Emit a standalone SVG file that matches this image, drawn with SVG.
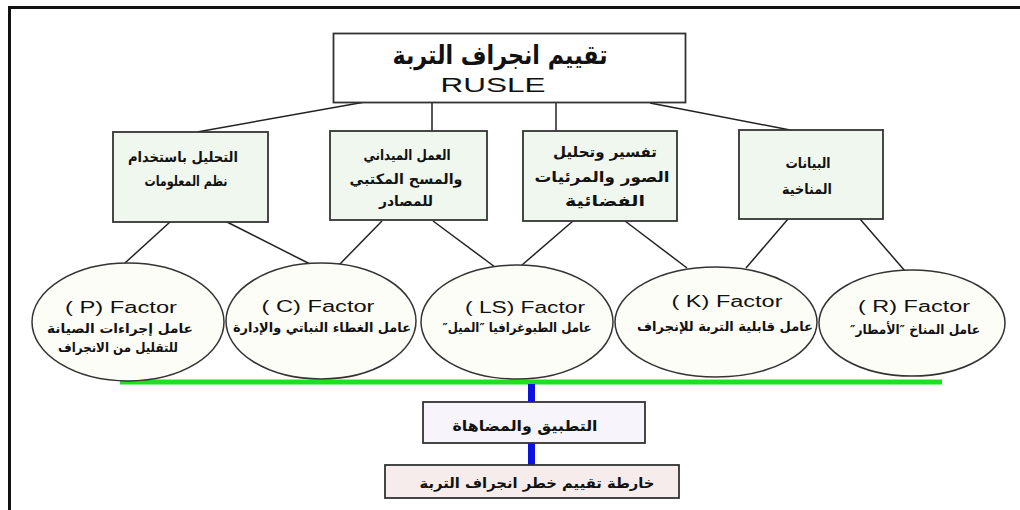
<svg xmlns="http://www.w3.org/2000/svg" width="1020" height="510" viewBox="0 0 1020 510">
<style>
.frame{stroke:#111;stroke-width:3;fill:none}
.conn{stroke:#222;stroke-width:1.5;fill:none}
.box{fill:#eff7ef;stroke:#333;stroke-width:1.8}
.ell{fill:#fdfdf7;stroke:#333;stroke-width:1.5}
.ar{font-family:"DejaVu Sans",sans-serif;font-weight:bold;text-anchor:middle;fill:#111;direction:rtl;unicode-bidi:embed}
.lat{font-family:"Liberation Sans",Arial,sans-serif;text-anchor:middle;fill:#111}
</style>
<rect width="1020" height="510" fill="#fff"/>
<path class="frame" d="M1020 7.5H9.5V510"/>
<g id="connectors">
<line class="conn" x1="365" y1="102" x2="197" y2="132"/>
<line class="conn" x1="432" y1="103" x2="432" y2="131"/>
<line class="conn" x1="556" y1="103" x2="556" y2="131"/>
<line class="conn" x1="650" y1="103" x2="790" y2="130"/>
<line class="conn" x1="170" y1="222" x2="125" y2="263"/>
<line class="conn" x1="227" y1="222" x2="310" y2="264"/>
<line class="conn" x1="382" y1="221" x2="339" y2="265"/>
<line class="conn" x1="433" y1="221" x2="495" y2="267"/>
<line class="conn" x1="573" y1="221" x2="522" y2="265"/>
<line class="conn" x1="625" y1="221" x2="687" y2="268"/>
<line class="conn" x1="788" y1="219" x2="746" y2="268"/>
<line class="conn" x1="860" y1="219" x2="905" y2="271"/>
<line x1="120" y1="382" x2="942" y2="382" stroke="#1fe01f" stroke-width="5"/>
<rect x="528" y="384" width="7" height="18" fill="#0a14dc"/>
<rect x="528" y="443" width="7" height="22" fill="#0a14dc"/>
</g>
<g id="top">
<rect x="333.5" y="33.5" width="352" height="69" fill="#fff" stroke="#333" stroke-width="1.8"/>
<text class="ar" x="500" y="64" font-size="26" textLength="215" lengthAdjust="spacingAndGlyphs">تقييم انجراف التربة</text>
<text class="lat" x="493" y="92" font-size="21" textLength="105" lengthAdjust="spacingAndGlyphs">RUSLE</text>
</g>
<g id="gis">
<rect class="box" x="113" y="132" width="155" height="90"/>
<text class="ar" x="183" y="162" font-size="14" textLength="110" lengthAdjust="spacingAndGlyphs">التحليل باستخدام</text>
<text class="ar" x="186" y="186" font-size="14" textLength="83" lengthAdjust="spacingAndGlyphs">نظم المعلومات</text>
</g>
<g id="field">
<rect class="box" x="330" y="131" width="157" height="89"/>
<text class="ar" x="407" y="160" font-size="14" textLength="87" lengthAdjust="spacingAndGlyphs">العمل الميداني</text>
<text class="ar" x="406" y="184" font-size="14" textLength="113" lengthAdjust="spacingAndGlyphs">والمسح المكتبي</text>
<text class="ar" x="406" y="206" font-size="14" textLength="54" lengthAdjust="spacingAndGlyphs">للمصادر</text>
</g>
<g id="imagery">
<rect class="box" x="523" y="131" width="154" height="90"/>
<text class="ar" x="605" y="157" font-size="15" textLength="104" lengthAdjust="spacingAndGlyphs">تفسير وتحليل</text>
<text class="ar" x="602" y="182" font-size="15" textLength="135" lengthAdjust="spacingAndGlyphs">الصور والمرئيات</text>
<text class="ar" x="605" y="206" font-size="15" textLength="80" lengthAdjust="spacingAndGlyphs">الفضائية</text>
</g>
<g id="climate">
<rect class="box" x="739" y="130" width="144" height="89"/>
<text class="ar" x="808" y="168" font-size="14" textLength="45" lengthAdjust="spacingAndGlyphs">البيانات</text>
<text class="ar" x="807" y="194" font-size="14" textLength="50" lengthAdjust="spacingAndGlyphs">المناخية</text>
</g>
<g id="factorP">
<ellipse class="ell" cx="128" cy="322" rx="96" ry="59"/>
<text class="lat" x="121" y="313" font-size="16" textLength="112" lengthAdjust="spacingAndGlyphs">( P) Factor</text>
<text class="ar" x="120" y="333" font-size="13" textLength="146" lengthAdjust="spacingAndGlyphs">عامل إجراءات الصيانة</text>
<text class="ar" x="118" y="352" font-size="13" textLength="120" lengthAdjust="spacingAndGlyphs">للتقليل من الانجراف</text>
</g>
<g id="factorC">
<ellipse class="ell" cx="321" cy="321" rx="95" ry="58"/>
<text class="lat" x="318" y="312" font-size="16" textLength="113" lengthAdjust="spacingAndGlyphs">( C) Factor</text>
<text class="ar" x="322" y="332" font-size="13" textLength="178" lengthAdjust="spacingAndGlyphs">عامل الغطاء النباتي والإدارة</text>
</g>
<g id="factorLS">
<ellipse class="ell" cx="517" cy="322" rx="96" ry="57"/>
<text class="lat" x="525" y="313" font-size="16" textLength="120" lengthAdjust="spacingAndGlyphs">( LS) Factor</text>
<text class="ar" x="517" y="332" font-size="13" textLength="149" lengthAdjust="spacingAndGlyphs">عامل الطبوغرافيا ″الميل″</text>
</g>
<g id="factorK">
<ellipse class="ell" cx="716" cy="322" rx="101" ry="55"/>
<text class="lat" x="727" y="307" font-size="16" textLength="111" lengthAdjust="spacingAndGlyphs">( K) Factor</text>
<text class="ar" x="725" y="331" font-size="13" textLength="176" lengthAdjust="spacingAndGlyphs">عامل قابلية التربة للإنجراف</text>
</g>
<g id="factorR">
<ellipse class="ell" cx="912" cy="323" rx="93" ry="53"/>
<text class="lat" x="914" y="312" font-size="16" textLength="112" lengthAdjust="spacingAndGlyphs">( R) Factor</text>
<text class="ar" x="915" y="334" font-size="13" textLength="130" lengthAdjust="spacingAndGlyphs">عامل المناخ ″الأمطار″</text>
</g>
<g id="apply">
<rect x="423" y="402" width="222" height="41" fill="#f7f5fb" stroke="#333" stroke-width="1.8"/>
<text class="ar" x="525" y="431" font-size="15" textLength="145" lengthAdjust="spacingAndGlyphs">التطبيق والمضاهاة</text>
</g>
<g id="map">
<rect x="385" y="465" width="294" height="33" fill="#f5eceb" stroke="#333" stroke-width="1.8"/>
<text class="ar" x="537" y="488" font-size="14" textLength="235" lengthAdjust="spacingAndGlyphs">خارطة تقييم خطر انجراف التربة</text>
</g>
</svg>
